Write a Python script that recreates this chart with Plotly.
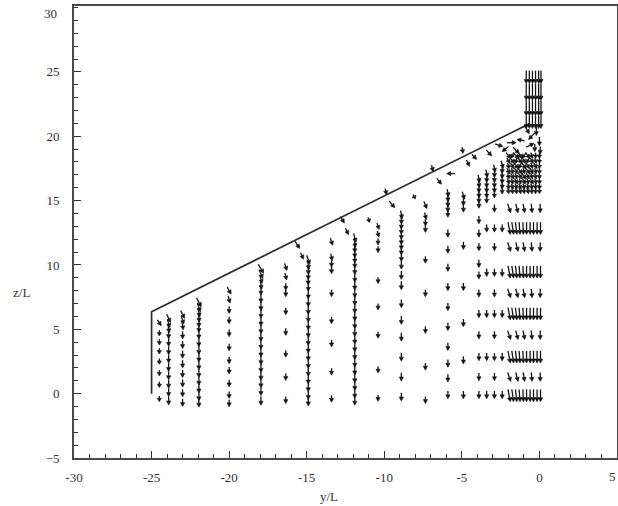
import math
import plotly.graph_objects as go

# ---------------- data ----------------
x_ticks = [-30, -25, -20, -15, -10, -5, 0, 5]
x_tick_text = ["-30", "-25", "-20", "-15", "-10", "-5", "0", ""]
x_edge_label = "5"
y_ticks = [-5, 0, 5, 10, 15, 20, 25]
y_top_label = "30"

# wall / boundary outline (y/L, z/L)
wall_y = [-25.0, -25.0, -0.6]
wall_z = [0.0, 6.37, 21.0]

# vertical profiles: x position, arrow centre heights (top -> bottom), arrow length, tilt of top arrows
c01_x, c01_len = -24.5, 0.45
c01_z = [5.5, 4.7, 4.0, 3.3, 2.5, 1.6, 0.7, -0.4]
c01_u = [0.25]
c02_x, c02_len = -23.9, 0.65
c02_z = [5.85, 5.45, 5.05, 4.6, 4.0, 3.35, 2.7, 2.05, 1.4, 0.75, 0.1, -0.55]
c02_u = [0.25, 0.15, 0.08]
c03_x, c03_len = -23.0, 0.6
c03_z = [6.15, 5.7, 5.25, 4.55, 3.8, 3.05, 2.3, 1.55, 0.8, 0.05, -0.7]
c03_u = [0.25, 0.15, 0.08]
c04_x, c04_len = -21.95, 0.7
c04_z = [7.1, 6.7, 6.3, 5.9, 5.5, 5.1, 4.6, 4.0, 3.4, 2.8, 2.2, 1.6, 1.0, 0.4, -0.2, -0.7]
c04_u = [0.3, 0.2, 0.12, 0.06]
c05_x, c05_len = -20.0, 0.55
c05_z = [8.0, 7.3, 6.5, 5.7, 4.7, 3.6, 2.6, 1.8, 0.8, -0.1, -0.75]
c05_u = [0.25, 0.12]
c06_x, c06_len = -17.95, 0.7
c06_z = [9.7, 9.3, 8.9, 8.45, 8.0, 7.4, 6.8, 6.2, 5.6, 5.0, 4.4, 3.8, 3.2, 2.6, 2.0, 1.4, 0.8, 0.2, -0.55]
c06_u = [0.35, 0.25, 0.15, 0.08]
c07_x, c07_len = -16.35, 0.55
c07_z = [9.85, 9.1, 8.3, 7.8, 6.4, 4.8, 3.1, 1.3, -0.5]
c07_u = [0.15, 0.1]
c08_x, c08_len = -14.9, 0.7
c08_z = [10.4, 10.0, 9.6, 9.2, 8.8, 8.3, 7.7, 7.1, 6.5, 5.9, 5.3, 4.7, 4.1, 3.5, 2.9, 2.3, 1.7,
         1.1, 0.5, -0.1, -0.6]
c08_u = [0.2, 0.12, 0.06]
c09_x, c09_len = -13.4, 0.55
c09_z = [11.8, 10.6, 10.1, 9.6, 7.8, 5.7, 3.9, 1.7, -0.4]
c09_u = [0.15, 0.1]
c10_x, c10_len = -11.9, 0.7
c10_z = [12.1, 11.7, 11.3, 10.9, 10.5, 10.1, 9.6, 9.0, 8.4, 7.8, 7.2, 6.6, 6.0, 5.4, 4.8, 4.2,
         3.6, 3.0, 2.4, 1.8, 1.2, 0.6, 0.0, -0.55]
c10_u = [0.15, 0.08]
c11_x, c11_len = -10.4, 0.5
c11_z = [13.0, 12.4, 11.8, 11.2, 8.8, 6.75, 4.55, 1.85, -0.35]
c11_u = [0.15, 0.1]
c12_x, c12_len = -8.9, 0.65
c12_z = [13.9, 13.5, 13.1, 12.7, 12.3, 11.9, 11.5, 11.1, 10.6, 10.0, 9.2, 8.4, 7.0, 5.7, 4.4,
         2.85, 1.3, -0.25]
c12_u = [0.1, 0.05]
c13_x, c13_len = -7.35, 0.55
c13_z = [14.65, 13.8, 13.3, 12.8, 10.4, 7.8, 4.95, 2.1, -0.5]
c13_u = [0.2, 0.1]
c14_x, c14_len = -5.9, 0.6
c14_z = [15.6, 15.2, 14.8, 14.4, 14.0, 12.45, 11.2, 9.8, 8.3, 6.75, 5.2, 3.65, 2.35, 1.2, -0.1]
c14_u = [0.1, 0.05]
c15_x, c15_len = -4.9, 0.6
c15_z = [15.4, 14.9, 14.4, 11.5, 8.3, 5.5, 2.6, -0.1]
c15_u = [0.15]
c16_x, c16_len = -3.9, 0.6
c16_z = [16.7, 16.3, 15.9, 15.5, 15.1, 14.7, 13.5, 12.45, 11.4, 10.1, 9.2, 7.8, 6.2, 4.55, 2.85,
         1.3, -0.1]
c16_u = [0.1, 0.05]
c17_x, c17_len = -3.4, 0.6
c17_z = [17.1, 16.7, 16.3, 15.9, 15.5, 15.1, 12.85, 9.4, 6.2, 2.85, -0.1]
c17_u = [0.1]
c18_x, c18_len = -2.9, 0.6
c18_z = [17.5, 17.1, 16.7, 16.3, 15.9, 15.5, 14.4, 12.85, 11.4, 9.4, 7.8, 6.2, 4.55, 2.85, 1.3, -0.1]
c18_u = [0.1]
c19_x, c19_len = -2.4, 0.6
c19_z = [17.8, 17.4, 17.0, 16.6, 16.2, 15.8, 12.85, 9.4, 6.2, 2.85, -0.1]
c19_u = [0.15]

# right-hand grid near the symmetry plane
grid_sparse_z = [14.4, 11.4, 7.8, 4.55, 1.3]
grid_sparse_y = [-1.95, -1.45, -1.0, -0.5, 0.05]
grid_sparse_u = [0.2, 0.15, 0.1, 0.05, 0.0]
grid_dense_z = [12.85, 9.45, 6.2, 2.85, -0.15]
grid_dense_y = [-1.95, -1.72, -1.5, -1.28, -1.05, -0.83, -0.6, -0.38, -0.15, 0.07]
grid_dense_u = [0.25, 0.2, 0.15, 0.1, 0.05, 0.0, 0.0, 0.0, 0.0, 0.0]

# crowded region just below the wall corner
knot_z = [18.5, 18.1, 17.7, 17.3, 16.9, 16.5, 16.1, 15.75]
knot_y = [-2.0, -1.75, -1.5, -1.25, -1.0, -0.75, -0.5, -0.25, 0.0]
knot_u = [
    [0.3, -0.2, 0.4, 0.2, -0.3, 0.3, 0.1, 0.0, 0.0],
    [0.2, 0.3, -0.1, 0.3, 0.2, -0.2, 0.2, 0.1, 0.0],
    [0.1, 0.2, 0.3, -0.2, 0.3, 0.2, 0.1, 0.2, 0.0],
    [0.2, 0.1, 0.2, 0.3, 0.1, 0.3, 0.2, 0.1, 0.0],
    [0.1, 0.2, 0.1, 0.2, 0.3, 0.2, 0.1, 0.1, 0.0],
    [0.1, 0.1, 0.2, 0.1, 0.2, 0.1, 0.2, 0.1, 0.0],
    [0.05, 0.1, 0.1, 0.15, 0.1, 0.1, 0.1, 0.05, 0.0],
    [0.05, 0.05, 0.1, 0.1, 0.05, 0.1, 0.05, 0.0, 0.0],
]
knot_len = 0.45

# stacked arrows above the wall corner
top_y = [-0.85, -0.65, -0.45, -0.25, -0.05, 0.1]
top_z_tail = [25.1, 24.1, 22.8, 21.6]
top_z_head = [24.1, 22.8, 21.6, 20.6]

# scattered individual arrows near the wall: position and vector
free_y = [-15.6, -15.3, -12.7, -12.4, -11.0, -9.9, -9.5, -8.07, -6.9, -6.46, -5.7, -4.96, -4.6,
          -4.2, -3.25, -2.6, -2.2, -1.8, -1.5, -1.2, -0.8, -0.5, -0.2, 0.0, -0.6, -0.3, 0.05]
free_z = [11.55, 10.7, 13.5, 12.6, 13.5, 15.7, 14.7, 15.3, 17.5, 16.5, 17.1, 18.9, 17.9,
          18.4, 18.7, 19.3, 19.0, 19.5, 18.9, 19.7, 20.5, 20.0, 20.4, 19.6, 19.3, 19.1, 18.9]
free_u = [0.3, 0.2, 0.25, 0.2, 0.1, 0.1, 0.35, 0.15, 0.1, 0.3, -0.55, 0.05, 0.2,
          0.3, 0.35, 0.5, -0.4, 0.6, 0.4, -0.5, 0.3, -0.4, 0.0, 0.0, 0.5, 0.0, 0.0]
free_v = [-0.55, -0.5, -0.5, -0.5, -0.4, -0.5, -0.5, -0.35, -0.5, -0.45, 0.0, -0.5, -0.5,
          -0.4, -0.45, -0.2, -0.4, 0.0, -0.5, 0.1, -0.6, -0.5, -0.7, -0.7, 0.3, -0.6, -0.6]

# ---------------- geometry / styling ----------------
W, H = 618, 506
ML, MR, MT, MB = 74, 1, 6, 48
XR = [-30, 5]
YR = [-5, 30.12]
PXX = (W - ML - MR) / (XR[1] - XR[0])
PXY = (H - MT - MB) / (YR[1] - YR[0])
HEAD_L, HEAD_W = 4.0, 2.1
INK = "#141414"

arrows = []  # (x, y, u, v) centre + vector


def add_column(x, zs, length, tilts):
    for i, z in enumerate(zs):
        u = tilts[i] if i < len(tilts) else 0.0
        arrows.append((x, z, u, -length))


for cx, cz, cl, cu in [
    (c01_x, c01_z, c01_len, c01_u), (c02_x, c02_z, c02_len, c02_u), (c03_x, c03_z, c03_len, c03_u),
    (c04_x, c04_z, c04_len, c04_u), (c05_x, c05_z, c05_len, c05_u), (c06_x, c06_z, c06_len, c06_u),
    (c07_x, c07_z, c07_len, c07_u), (c08_x, c08_z, c08_len, c08_u), (c09_x, c09_z, c09_len, c09_u),
    (c10_x, c10_z, c10_len, c10_u), (c11_x, c11_z, c11_len, c11_u), (c12_x, c12_z, c12_len, c12_u),
    (c13_x, c13_z, c13_len, c13_u), (c14_x, c14_z, c14_len, c14_u), (c15_x, c15_z, c15_len, c15_u),
    (c16_x, c16_z, c16_len, c16_u), (c17_x, c17_z, c17_len, c17_u), (c18_x, c18_z, c18_len, c18_u),
    (c19_x, c19_z, c19_len, c19_u),
]:
    add_column(cx, cz, cl, cu)

for z in grid_sparse_z:
    for y, u in zip(grid_sparse_y, grid_sparse_u):
        arrows.append((y, z, u, -0.7))
for z in grid_dense_z:
    for y, u in zip(grid_dense_y, grid_dense_u):
        arrows.append((y, z, u * 0.6, -0.95))
for z, urow in zip(knot_z, knot_u):
    for y, u in zip(knot_y, urow):
        arrows.append((y, z, u, -knot_len))
for y in top_y:
    for zt, zh in zip(top_z_tail, top_z_head):
        arrows.append((y, (zt + zh) / 2, 0.0, zh - zt))
for y, z, u, v in zip(free_y, free_z, free_u, free_v):
    arrows.append((y, z, u, v))

shaft_x, shaft_y, head_x, head_y = [], [], [], []
for (x, y, u, v) in arrows:
    x0, y0 = x - u / 2, y - v / 2
    x1, y1 = x + u / 2, y + v / 2
    dx, dy = u * PXX, v * PXY
    n = math.hypot(dx, dy)
    if n == 0:
        continue
    ex, ey = dx / n, dy / n
    hl = min(HEAD_L, 0.6 * n)
    bx, by = x1 - ex * hl / PXX, y1 - ey * hl / PXY
    shaft_x += [x0, bx, None]
    shaft_y += [y0, by, None]
    lx, ly = bx + (-ey) * HEAD_W / PXX, by + ex * HEAD_W / PXY
    rx, ry = bx - (-ey) * HEAD_W / PXX, by - ex * HEAD_W / PXY
    head_x += [x1, lx, rx, x1, None]
    head_y += [y1, ly, ry, y1, None]

fig = go.Figure()
fig.add_trace(go.Scatter(x=wall_y, y=wall_z, mode="lines",
                         line=dict(color="#2a2a2a", width=1.7), hoverinfo="skip", showlegend=False))
fig.add_trace(go.Scatter(x=shaft_x, y=shaft_y, mode="lines",
                         line=dict(color=INK, width=1.3), hoverinfo="skip", showlegend=False))
fig.add_trace(go.Scatter(x=head_x, y=head_y, mode="lines", fill="toself", fillcolor=INK,
                         line=dict(color=INK, width=0.6), hoverinfo="skip", showlegend=False))

label_font = dict(family="Liberation Serif", size=13, color="#333333")
axis_common = dict(showline=True, linecolor="#4a4a4a", linewidth=1.8, mirror=True, automargin=False,
                   showgrid=False, zeroline=False, ticks="inside", ticklen=7, tickwidth=1.2,
                   tickcolor="#333333", tickfont=label_font,
                   minor=dict(dtick=1, ticks="inside", ticklen=4, tickwidth=1, tickcolor="#333333",
                              showgrid=False))
fig.update_layout(
    width=W, height=H,
    margin=dict(l=ML, r=MR, t=MT, b=MB, autoexpand=False),
    paper_bgcolor="white", plot_bgcolor="white",
    xaxis=dict(range=XR, tickvals=x_ticks, ticktext=x_tick_text, ticklabelstandoff=6, **axis_common),
    yaxis=dict(range=YR, tickvals=y_ticks, ticklabelstandoff=10, **axis_common),
    annotations=[
        dict(text="y/L", x=0.47, y=-0.086, xref="paper", yref="paper", showarrow=False,
             xanchor="center", yanchor="middle", font=label_font),
        dict(text="z/L", x=-0.096, y=0.367, xref="paper", yref="paper", showarrow=False,
             xanchor="center", yanchor="middle", font=label_font),
        dict(text=y_top_label, x=-0.028, y=0.984, xref="paper", yref="paper", showarrow=False,
             xanchor="right", yanchor="middle", font=label_font),
        dict(text=x_edge_label, x=1.0, y=-0.041, xref="paper", yref="paper", showarrow=False,
             xanchor="right", yanchor="middle", xshift=1, font=label_font),
    ],
)

fig.write_html("out.html", config={"displayModeBar": False},
               post_script="document.body.style.margin='0';document.body.style.overflow='hidden';")
